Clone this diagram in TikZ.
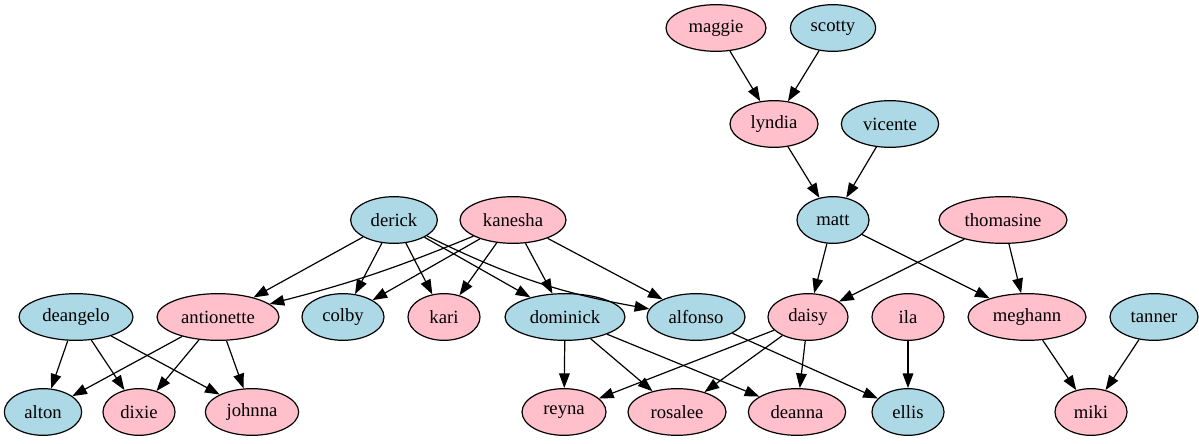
\documentclass[tikz,border=0pt]{standalone}
\usepackage{fontspec}
\setmainfont{Liberation Serif}
\usetikzlibrary{shapes.geometric,arrows.meta}
\definecolor{boyblue}{RGB}{173,216,230}
\definecolor{girlpink}{RGB}{255,192,203}

\begin{document}
\begin{tikzpicture}[x=1pt,y=1pt,
    person/.style={ellipse,draw,line width=0.9pt,inner sep=0pt,minimum height=35pt,font=\fontsize{14}{16}\selectfont},
    boy/.style={person,fill=boyblue},
    girl/.style={person,fill=girlpink},
    kid/.style={-{Triangle[length=11pt,width=8pt]},line width=0.9pt}]
          \useasboundingbox (0,0) rectangle (899.25,332.25);
          % first two rows
          \node[girl,minimum width=75pt] (maggie) at (537,311.25) {maggie};
          \node[boy,minimum width=64pt] (scotty) at (624.75,311.25) {scotty};
          \node[girl,minimum width=66pt] (lyndia) at (580.5,239.25) {lyndia};
          \node[boy,minimum width=73pt] (vicente) at (667.5,239.25) {vicente};
          % third row
          \node[boy,minimum width=65pt] (derick) at (295.5,167.25) {derick};
          \node[girl,minimum width=79.5pt] (kanesha) at (384.75,167.25) {kanesha};
          \node[boy,minimum width=54pt] (matt) at (624.75,167.25) {matt};
          \node[girl,minimum width=96pt] (thomasine) at (752.25,167.25) {thomasine};
          % fourth row
          \node[boy,minimum width=85.5pt] (deangelo) at (57,94.5) {deangelo};
          \node[girl,minimum width=91.5pt] (antionette) at (163.5,94.5) {antionette};
          \node[boy,minimum width=61.5pt] (colby) at (257.25,94.5) {colby};
          \node[girl,minimum width=54pt] (kari) at (333,94.5) {kari};
          \node[boy,minimum width=90pt] (dominick) at (423.75,94.5) {dominick};
          \node[boy,minimum width=73.5pt] (alfonso) at (522,94.5) {alfonso};
          \node[girl,minimum width=60pt] (daisy) at (606,94.5) {daisy};
          \node[girl,minimum width=54pt] (ila) at (681,94.5) {ila};
          \node[girl,minimum width=88.5pt] (meghann) at (770.25,94.5) {meghann};
          \node[boy,minimum width=66pt] (tanner) at (865.5,94.5) {tanner};
          % bottom row
          \node[boy,minimum width=58pt] (alton) at (32.25,23.25) {alton};
          \node[girl,minimum width=54pt] (dixie) at (104.25,23.25) {dixie};
          \node[girl,minimum width=70pt] (johnna) at (189,23.25) {johnna};
          \node[girl,minimum width=63pt] (reyna) at (423,23.25) {reyna};
          \node[girl,minimum width=73.5pt] (rosalee) at (507.75,23.25) {rosalee};
          \node[girl,minimum width=73pt] (deanna) at (597.75,23.25) {deanna};
          \node[boy,minimum width=54pt] (ellis) at (681,23.25) {ellis};
          \node[girl,minimum width=54pt] (miki) at (818.25,23.25) {miki};
          % arrows, top part
          \draw[kid] (maggie) -- (lyndia);
          \draw[kid] (scotty) -- (lyndia);
          \draw[kid] (lyndia) -- (matt);
          \draw[kid] (vicente) -- (matt);
          \draw[kid] (matt) -- (daisy);
          \draw[kid] (matt) -- (meghann);
          \draw[kid] (thomasine) -- (daisy);
          \draw[kid] (thomasine) -- (meghann);
          % arrows from derick and kanesha
          \draw[kid] (derick) -- (antionette);
          \draw[kid] (derick) -- (colby);
          \draw[kid] (derick) -- (kari);
          \draw[kid] (derick) -- (dominick);
          \draw[kid] (derick) to[bend right=8] (alfonso);
          \draw[kid] (kanesha) to[bend left=4] (antionette);
          \draw[kid] (kanesha) -- (colby);
          \draw[kid] (kanesha) -- (kari);
          \draw[kid] (kanesha) -- (dominick);
          \draw[kid] (kanesha) -- (alfonso);
          % arrows, bottom part
          \draw[kid] (deangelo) -- (alton);
          \draw[kid] (deangelo) -- (dixie);
          \draw[kid] (deangelo) -- (johnna);
          \draw[kid] (antionette) -- (alton);
          \draw[kid] (antionette) -- (dixie);
          \draw[kid] (antionette) -- (johnna);
          \draw[kid] (dominick) -- (reyna);
          \draw[kid] (dominick) -- (rosalee);
          \draw[kid] (dominick) -- (deanna);
          \draw[kid] (daisy) -- (reyna);
          \draw[kid] (daisy) -- (rosalee);
          \draw[kid] (daisy) -- (deanna);
          \draw[kid] (alfonso) -- (ellis);
          \draw[kid] (ila) -- (ellis);
          \draw[kid] (meghann) -- (miki);
          \draw[kid] (tanner) -- (miki);
        \end{tikzpicture}
\end{document}
